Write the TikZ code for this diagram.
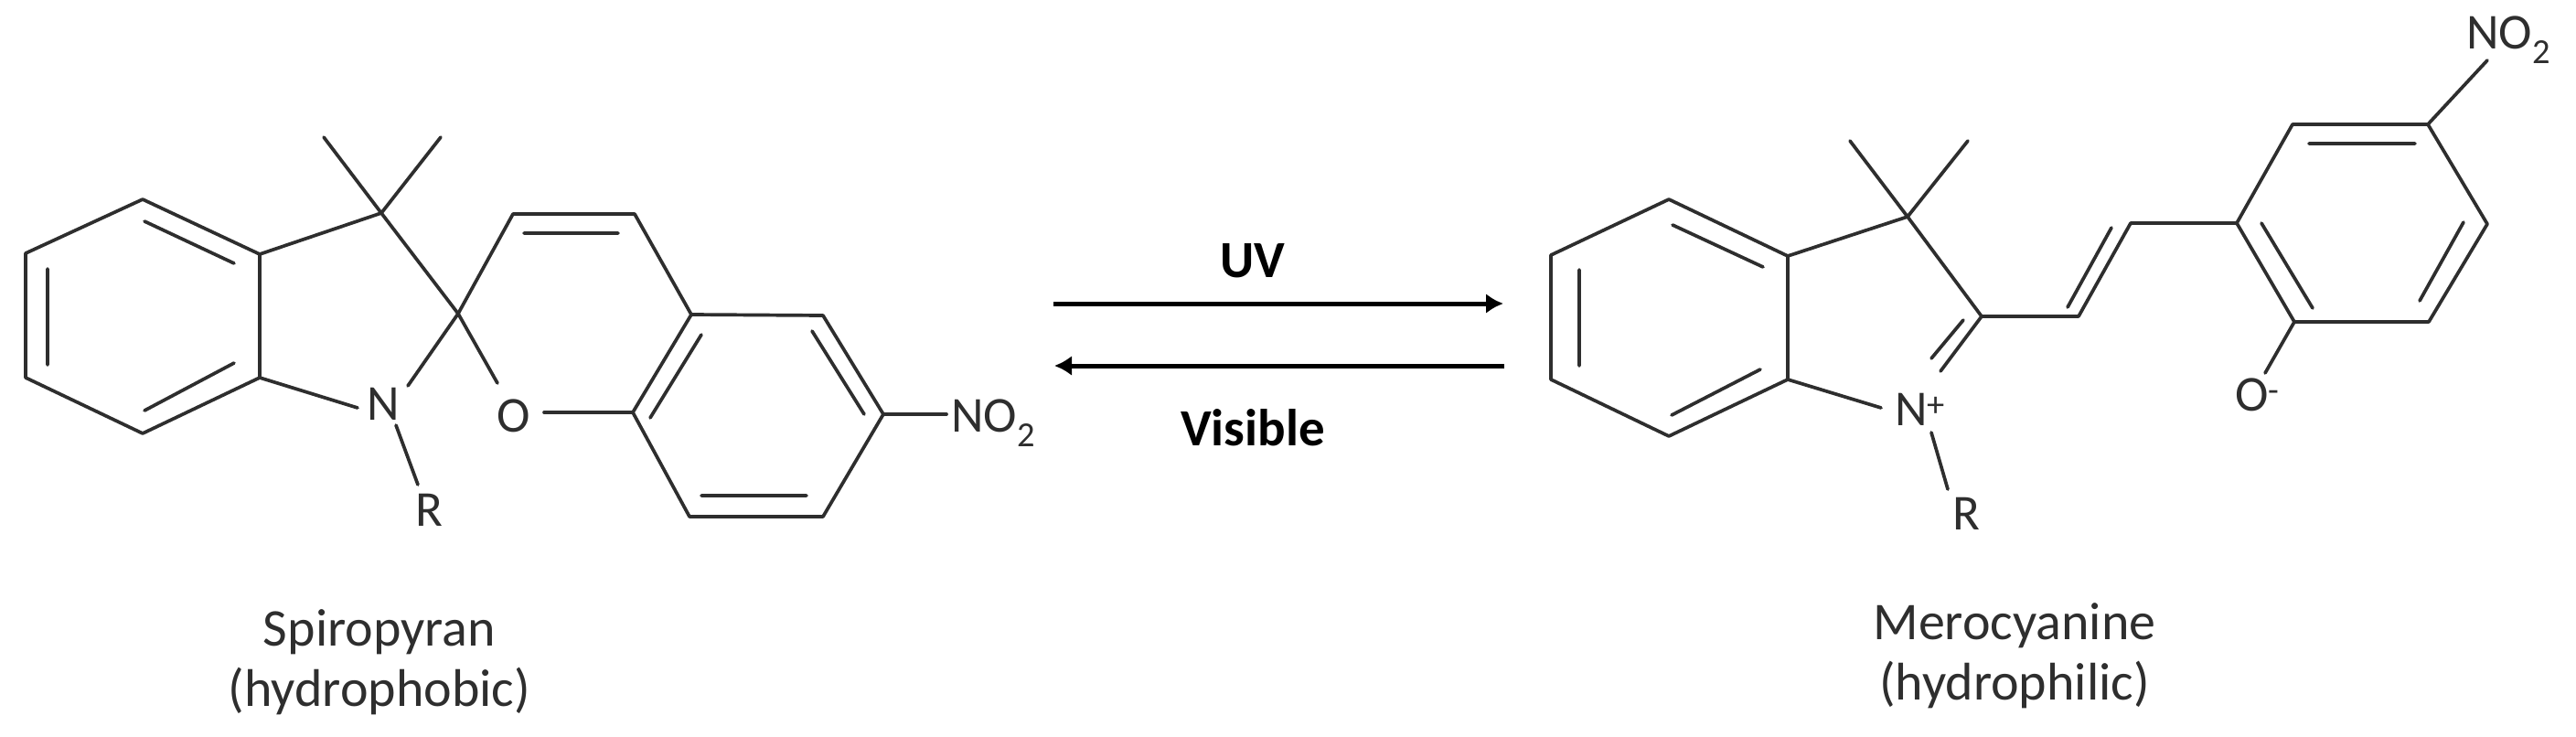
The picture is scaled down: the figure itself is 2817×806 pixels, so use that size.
\documentclass[tikz,border=0pt]{standalone}
\usepackage{fontspec}
\setmainfont{Carlito}
\usetikzlibrary{arrows.meta}
\definecolor{ink}{HTML}{2E2E2E}
\tikzset{
  bond/.style={draw=ink,line width=3.7pt,line cap=round,line join=round},
  atomlabel/.style={inner sep=0pt,anchor=base west,text=ink,font=\fontsize{55}{55}\selectfont},
  caption/.style={inner sep=0pt,text=ink,align=center,font=\fontsize{58}{66}\selectfont},
  lightlabel/.style={inner sep=0pt,text=black,font=\fontsize{57}{57}\selectfont\bfseries},
  lightarrow/.style={draw=black,line width=5pt,-{Latex[length=19pt,width=22pt]}}
}
\begin{document}
\begin{tikzpicture}[x=1pt,y=-1pt]
\useasboundingbox (0,0) rectangle (2817,806);
% --- Spiropyran atoms
\foreach \n/\x/\y in {a1/156/218,a2/284/278,a3/284/413,a4/156/474,a5/28/413,a6/28/277,
  a7/417/233,m1/354/150,m2/482/150,sp/501/343,nA/446/422,nB/391/446,oA/544/419,oB/595/451,
  rA/433/465,rB/457/530,c1/561/234,c2/694/234,c3/756/344,c4/900/345,c5/966/453,c6/900/565,c7/754/565,c8/692/451,
  nit/1035/453,
  i1/52/294,i2/52/399,i3/158/242,i4/256/288,i5/256/397,i6/158/449,
  i7/573/255,i8/676/255,i9/767/366,i10/711/457,i11/888/362,i12/945/453,i13/767/542,i14/882/542}
  {\coordinate (\n) at (\x,\y);}
\draw[bond] (a1)--(a2)--(a3)--(a4)--(a5)--(a6)--cycle;
\draw[bond] (i1)--(i2) (i3)--(i4) (i5)--(i6);
\draw[bond] (a2)--(a7) (m1)--(a7)--(m2);
\draw[bond] (a7)--(sp)--(oA) (sp)--(nA) (a3)--(nB) (rA)--(rB);
\draw[bond] (sp)--(c1)--(c2)--(c3) (i7)--(i8);
\draw[bond] (c3)--(c4)--(c5)--(c6)--(c7)--(c8)--cycle;
\draw[bond] (i9)--(i10) (i11)--(i12) (i13)--(i14);
\draw[bond] (oB)--(c8) (c5)--(nit);
\node[atomlabel] (spN) at (401,459) {N};
\node[atomlabel] (spO) at (543,472) {O};
\node[atomlabel] (spR) at (454,575) {R};
\node[atomlabel] (spNO) at (1040,472) {NO\textsubscript{2}};
\node[caption] (spCap) at (415,724) {Spiropyran\\(hydrophobic)};
% --- Arrows
\coordinate (u1) at (1152,332); \coordinate (u2) at (1644,332);
\coordinate (v1) at (1645,400); \coordinate (v2) at (1153,400);
\draw[lightarrow] (u1)--(u2);
\draw[lightarrow] (v1)--(v2);
\node[lightlabel] (uv) at (1370,285) {UV};
\node[lightlabel] (vis) at (1370,468) {Visible};
% --- Merocyanine atoms
\foreach \n/\x/\y in {b1/1825/218,b2/1955/280,b3/1955/415,b4/1825/477,b5/1696/415,b6/1696/279,
  b7/2086/237,p1/2023/154,p2/2152/154,b8/2167/346,nC/2057/446,
  dA/2122/406,dB/2147/350,dC/2112/392,
  rC/2112/473,rD/2130/535,
  v1m/2273/346,v2m/2330/244,v3/2309/249,v4/2261/336,
  r1/2446/244,r2/2507/136,r3/2655/136,r4/2720/245,r5/2656/352,r6/2509/352,
  j1/1727/295,j2/1727/400,j3/1829/246,j4/1928/292,j5/1925/404,j6/1828/454,
  j7/2525/157,j8/2641/157,j9/2694/243,j10/2646/329,j11/2473/244,j12/2529/337,
  nitB/2720/66,oC/2477/408}
  {\coordinate (\n) at (\x,\y);}
\draw[bond] (b1)--(b2)--(b3)--(b4)--(b5)--(b6)--cycle;
\draw[bond] (j1)--(j2) (j3)--(j4) (j5)--(j6);
\draw[bond] (b2)--(b7) (p1)--(b7)--(p2) (b7)--(b8)--(dA) (dB)--(dC) (b3)--(nC) (rC)--(rD);
\draw[bond] (b8)--(v1m)--(v2m)--(r1) (v3)--(v4);
\draw[bond] (r1)--(r2)--(r3)--(r4)--(r5)--(r6)--cycle;
\draw[bond] (j7)--(j8) (j9)--(j10) (j11)--(j12);
\draw[bond] (r3)--(nitB) (r6)--(oC);
\node[atomlabel] (meN) at (2072,465) {N\textsuperscript{+}};
\node[atomlabel] (meO) at (2444,449) {O\textsuperscript{-}};
\node[atomlabel] (meR) at (2135,579) {R};
\node[atomlabel] (meNO) at (2697,53) {NO\textsubscript{2}};
\node[caption] (meCap) at (2203,717) {Merocyanine\\(hydrophilic)};
\end{tikzpicture}
\end{document}
